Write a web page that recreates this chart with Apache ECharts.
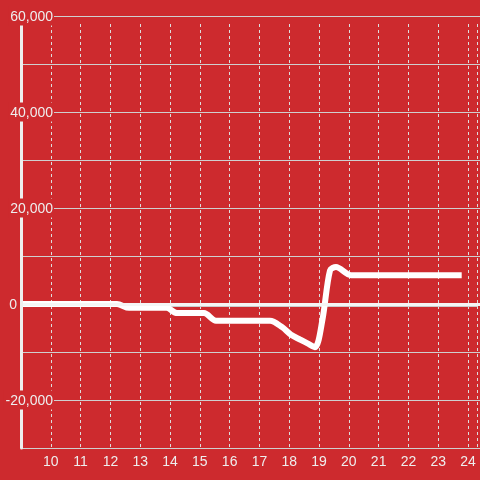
<!DOCTYPE html>
<html>
<head>
<meta charset="utf-8">
<script src="https://cdn.jsdelivr.net/npm/echarts@6/dist/echarts.min.js"></script>
<style>
  html, body { margin: 0; padding: 0; background: #cd2a2e; }
  #main { width: 480px; height: 480px; }
</style>
</head>
<body>
<div id="main"></div>
<script>
// data (x = hour, y = value)
const hours  = [9, 12.2, 12.6, 13.85, 14.2, 15.1, 15.5, 17.3, 17.7, 18.0, 18.3, 18.55, 18.8, 19.05, 19.3, 19.5, 20.0, 23.69];
const values = [0, 0, -800, -800, -1900, -1900, -3500, -3500, -4800, -6400, -7400, -8200, -9000, -3200, 7000, 7700, 6000, 6000];

const xMin = 9, xMax = 24.3;
const yMin = -30000, yMax = 60000;

const bg = '#cd2a2e';
const font = 'Liberation Sans, Arial, sans-serif';

let chart = echarts.init(document.getElementById('main'), null, { renderer: 'canvas' });

let points = hours.map((h, i) => [h, values[i]]);

chart.setOption({
    backgroundColor: bg,
    animation: false,
    grid: [
        { left: 21, right: 0, top: 16, bottom: 32 },  // series + horizontal lines
        { left: 21, right: 0, top: 24, bottom: 32 },  // x axis + vertical dotted lines
        { left: 21, right: 0, top: 16, bottom: 32 }   // y labels on top
    ],
    xAxis: [
        { gridIndex: 0, type: 'value', min: xMin, max: xMax, show: false },
        {
            gridIndex: 1, type: 'value', min: xMin, max: xMax, interval: 1,
            axisLine: { show: true, lineStyle: { color: '#cccccc', width: 1 } },
            axisTick: { show: false },
            axisLabel: {
                color: '#eeeeee', fontSize: 14, fontFamily: font, margin: 7,
                formatter: v => (v >= 10 && Number.isInteger(v)) ? String(v) : ''
            },
            splitLine: { show: true, lineStyle: { color: '#dddddd', width: 1, type: [3, 3] } }
        },
        { gridIndex: 2, type: 'value', min: xMin, max: xMax, show: false }
    ],
    yAxis: [
        {
            gridIndex: 0, type: 'value', min: yMin, max: yMax, interval: 10000,
            axisLine: { show: false }, axisTick: { show: false }, axisLabel: { show: false },
            splitLine: { show: true, lineStyle: { color: '#cfcfcf', width: 1 } }
        },
        { gridIndex: 1, type: 'value', min: yMin, max: yMax, show: false },
        {
            gridIndex: 2, type: 'value', min: yMin, max: yMax, interval: 10000, z: 5,
            axisLine: { show: true, lineStyle: { color: '#eeeeee', width: 3 } },
            axisTick: { show: false },
            splitLine: { show: false },
            axisLabel: {
                align: 'right', margin: -33,
                formatter: v => {
                    if (v % 20000 !== 0) return '';
                    if (v === 0) return '{z|0}';
                    return '{a|' + v.toLocaleString('en-US') + '}';
                },
                rich: {
                    a: { color: '#eeeeee', fontSize: 14, fontFamily: font, backgroundColor: bg, padding: [4, 1, 1, 2] },
                    z: { color: '#eeeeee', fontSize: 14, fontFamily: font, padding: [3, 37, 0, 0] }
                }
            }
        }
    ],
    series: [{
        type: 'line',
        xAxisIndex: 0,
        yAxisIndex: 0,
        data: points,
        showSymbol: false,
        smooth: 0.3,
        lineStyle: { color: '#ffffff', width: 6 },
        markLine: {
            silent: true,
            symbol: 'none',
            label: { show: false },
            lineStyle: { color: '#f5f5f5', width: 3, type: 'solid' },
            data: [{ yAxis: 0 }]
        }
    }]
});
</script>
</body>
</html>
